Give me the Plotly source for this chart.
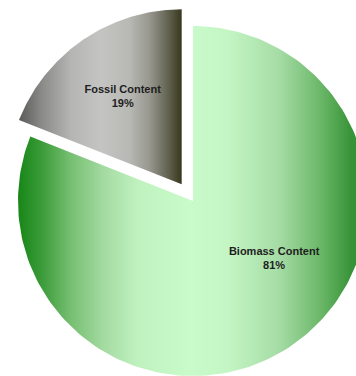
import numpy as np
import plotly.graph_objects as go

# ---- data ----
labels = ["Biomass Content", "Fossil Content"]
shares = [81, 19]  # percent

# ---- style ----
green_scale = [
    [0.0, "#178617"], [0.07, "#3c9c3a"], [0.15, "#76bf72"], [0.25, "#a6dca3"],
    [0.345, "#c0f2c0"], [0.49, "#c9fac9"], [0.6, "#c4f5c4"], [0.747, "#a5dca5"],
    [0.862, "#6cb86a"], [0.948, "#3a953a"], [1.0, "#2a8a2a"],
]
gray_scale = [
    [0.0, "#5a5a58"], [0.14, "#8a8a88"], [0.32, "#b5b5b3"], [0.5, "#c4c4c2"],
    [0.68, "#b8b8b4"], [0.8, "#989890"], [0.9, "#6a6a5a"], [1.0, "#38381e"],
]
scales = [green_scale, gray_scale]
pulls = [0.0, 0.115]
label_pos = [(125.6, 0.57), (None, 0.6)]  # (angle from top clockwise or None=bisector, radius frac)

fig = go.Figure()
total = sum(shares)
start = 0.0
for lab, val, cs, pull, (lang, lr) in zip(labels, shares, scales, pulls, label_pos):
    span = 360.0 * val / total
    a0, a1 = start, start + span
    start = a1
    mid = np.radians((a0 + a1) / 2)
    ox, oy = pull * np.sin(mid), pull * np.cos(mid)
    th = np.radians(np.linspace(a0, a1, 200))
    xs = np.concatenate([[ox], ox + np.sin(th), [ox]])
    ys = np.concatenate([[oy], oy + np.cos(th), [oy]])
    fig.add_trace(go.Scatter(
        x=xs, y=ys, mode="lines", fill="toself",
        line=dict(width=0, color="rgba(0,0,0,0)"),
        fillgradient=dict(type="horizontal", colorscale=cs),
        hoverinfo="skip", showlegend=False,
    ))
    la = mid if lang is None else np.radians(lang)
    fig.add_trace(go.Scatter(
        x=[ox + lr * np.sin(la)], y=[oy + lr * np.cos(la)], mode="text",
        text=[f"<b>{lab}</b><br><b>{val}%</b>"],
        textfont=dict(family="Liberation Sans, Arial, sans-serif", size=11, color="#1e1e1e"),
        textposition="middle center", showlegend=False, hoverinfo="skip",
    ))

px_per_unit = 175.0
cx, cy = 193.0, 201.0
W, H = 356, 376
fig.update_layout(
    width=W, height=H,
    margin=dict(l=0, r=0, t=0, b=0),
    paper_bgcolor="white", plot_bgcolor="white",
    xaxis=dict(range=[-cx / px_per_unit, (W - cx) / px_per_unit], visible=False, fixedrange=True),
    yaxis=dict(range=[-(H - cy) / px_per_unit, cy / px_per_unit], visible=False, fixedrange=True),
)
fig.write_html("out.html")
